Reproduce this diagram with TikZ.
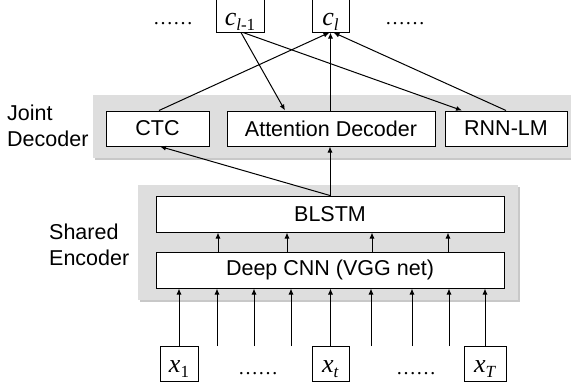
\documentclass[tikz,border=0pt]{standalone}
\usepackage{fontspec}
\setmainfont{Liberation Sans}
\newfontfamily\serif{Liberation Serif}
\usetikzlibrary{arrows.meta}
\definecolor{panelgray}{RGB}{222,222,222}
\definecolor{shadowgray}{RGB}{200,200,200}
\newcommand{\mainsz}{\fontsize{21.5}{25}\selectfont}
\newcommand{\varlabel}[2]{{\serif\fontsize{26}{26}\selectfont\textit{#1}\raisebox{-5pt}{\fontsize{17}{17}\selectfont #2}}}
\begin{document}
\begin{tikzpicture}[x=1pt,y=-1pt,
  box/.style={draw,fill=white,line width=1pt,inner sep=0pt,font=\mainsz},
  outbox/.style={box,text height=21pt,text depth=0pt},
  inbox/.style={box,text height=17pt,text depth=0pt},
  panel/.style={fill=panelgray},
  arr/.style={line width=1pt,-{Latex[length=6pt,width=5pt]}},
  lbl/.style={anchor=base west,inner sep=0pt,font=\mainsz},
  dotsl/.style={anchor=base,inner sep=0pt,font=\serif\fontsize{20}{20}\selectfont}]
\useasboundingbox (0,0) rectangle (571,389);
% panels with soft shadow
\fill[shadowgray] (95,97) rectangle (575,160);
\fill[panel] (93,95) rectangle (575,158);
\fill[shadowgray] (140,187) rectangle (520,302);
\fill[panel] (138,185) rectangle (518,300);
% side labels
\node[lbl] (lj1) at (7,120) {Joint};
\node[lbl] (lj2) at (7,146) {Decoder};
\node[lbl] (le1) at (49,239) {Shared};
\node[lbl] (le2) at (49,265) {Encoder};
% top outputs
\node[outbox,minimum width=48pt,minimum height=35pt] (cl1) at (240,14.5) {\varlabel{c}{\textit{l}-1}};
\node[outbox,minimum width=37pt,minimum height=35pt] (cl) at (330.5,14.5) {\varlabel{c}{\textit{l}}};
\node[dotsl] (d1) at (173,24) {……};
\node[dotsl] (d2) at (405,24) {……};
% joint decoder
\node[box,minimum width=103pt,minimum height=35pt] (ctc) at (157.5,128.5) {CTC};
\node[box,minimum width=208pt,minimum height=35pt] (att) at (331,128.5) {Attention Decoder};
\node[box,minimum width=122pt,minimum height=35pt] (rnn) at (506,128.5) {RNN-LM};
% shared encoder
\node[box,minimum width=348pt,minimum height=36pt] (blstm) at (330,214) {BLSTM};
\node[box,minimum width=348pt,minimum height=36pt] (cnn) at (330,270) {Deep CNN (VGG net)};
% inputs
\node[inbox,minimum width=38pt,minimum height=35pt] (x1) at (179,363.5) {\varlabel{x}{1}};
\node[inbox,minimum width=37pt,minimum height=35pt] (xt) at (330.5,363.5) {\varlabel{x}{\textit{t}}};
\node[inbox,minimum width=42pt,minimum height=35pt] (xT) at (485,363.5) {\varlabel{x}{\textit{T}}};
\node[dotsl] (d3) at (258,374) {……};
\node[dotsl] (d4) at (416,374) {……};
% input arrows
\draw[arr] (x1.north) -- (x1.north |- cnn.south);
\draw[arr] (xt.north) -- (xt.north |- cnn.south);
\draw[arr] (xT.north) -- (xT.north |- cnn.south);
\foreach \x in {217,254,291,371,412,449}{
  \coordinate (in\x) at (\x,346);
  \draw[arr] (in\x) -- (cnn.south -| in\x);
}
% cnn to blstm
\foreach \x in {218,287,372,448}{
  \draw[arr] (cnn.north -| \x,0) -- (blstm.south -| \x,0);
}
% encoder to decoder
\draw[arr] (blstm.north) -- ([xshift=2.5pt]ctc.south);
\draw[arr] (blstm.north) -- (blstm.north |- att.south);
% decoder to outputs
\draw[arr] ([xshift=1.5pt]ctc.north) -- ([xshift=-1pt]cl.south);
\draw[arr] (att.north -| cl.south) -- (cl.south);
\draw[arr] (rnn.north) -- ([xshift=3pt]cl.south);
\draw[arr] ([xshift=1pt]cl1.south) -- ([xshift=-46pt]att.north);
\draw[arr] ([xshift=3pt]cl1.south) -- ([xshift=-44pt]rnn.north);
\end{tikzpicture}
\end{document}
